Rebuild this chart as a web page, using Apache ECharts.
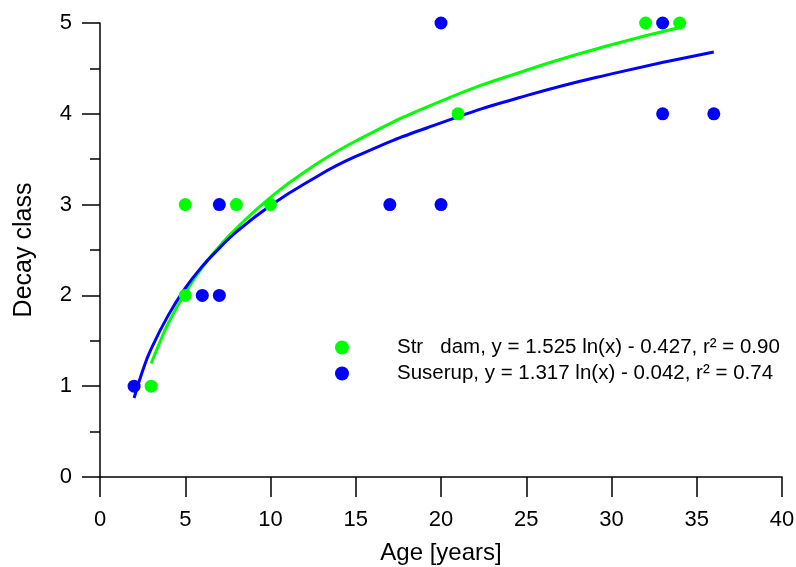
<!DOCTYPE html>
<html>
<head>
<meta charset="utf-8">
<script src="https://cdn.jsdelivr.net/npm/echarts@6/dist/echarts.min.js"></script>
<style>
  html, body { margin: 0; padding: 0; background: #fff; }
  #chart { width: 796px; height: 567px; }
</style>
</head>
<body>
<div id="chart"></div>
<script>
// observed points (age in years, decay class)
var strodamAge = [3, 5, 5, 8, 10, 21, 32, 34];
var strodamClass = [1, 2, 3, 3, 3, 4, 5, 5];
var suserupAge = [2, 6, 7, 7, 17, 20, 20, 33, 33, 36];
var suserupClass = [1, 2, 2, 3, 3, 3, 5, 4, 5, 4];

// fitted curves, values
var strodamFitAge = [3, 3.5, 4, 5, 6, 7, 8, 10, 12, 15, 20, 25, 30, 34];
var strodamFitClass = [1.25, 1.48, 1.69, 2.03, 2.31, 2.54, 2.74, 3.08, 3.36, 3.70, 4.14, 4.48, 4.76, 4.95];
var suserupFitAge = [2, 2.5, 3, 4, 5, 6, 7, 8, 10, 12, 15, 20, 25, 30, 36];
var suserupFitClass = [0.87, 1.17, 1.41, 1.78, 2.08, 2.32, 2.52, 2.70, 2.99, 3.23, 3.53, 3.90, 4.20, 4.44, 4.68];

var strodamName = "Str   dam, y = 1.525 ln(x) - 0.427, r\u00b2 = 0.90";
var suserupName = "Suserup, y = 1.317 ln(x) - 0.042, r\u00b2 = 0.74";

var GREEN = "#00ff00";
var BLUE = "#0000ff";
var FONT = "'Liberation Sans', Arial, sans-serif";

function zipPairs(xs, ys) {
    var out = [];
    for (var i = 0; i < xs.length; i++) {
        out.push([xs[i], ys[i]]);
    }
    return out;
}

var chart = echarts.init(document.getElementById("chart"));

var option = {
    backgroundColor: "#fff",
    animation: false,
    textStyle: { fontFamily: FONT },
    grid: {
        left: 100,
        right: 14,
        top: 23,
        bottom: 90,
        containLabel: false,
        outerBoundsMode: "none"
    },
    legend: {
        orient: "vertical",
        left: 330,
        top: 332,
        icon: "circle",
        itemWidth: 14,
        itemHeight: 14,
        itemGap: 5,
        data: [strodamName, suserupName],
        textStyle: {
            fontFamily: FONT,
            fontSize: 20.5,
            lineHeight: 20,
            color: "#000",
            padding: [0, 0, 0, 43]
        }
    },
    xAxis: {
        type: "value",
        min: 0,
        max: 40,
        interval: 5,
        name: "Age [years]",
        nameLocation: "middle",
        nameGap: 64,
        nameTextStyle: { fontFamily: FONT, fontSize: 24, color: "#000" },
        axisLine: { show: true, onZero: false, lineStyle: { color: "#000", width: 1.5 } },
        axisTick: { show: true, inside: false, length: 20, lineStyle: { color: "#000", width: 1.5 } },
        axisLabel: { margin: 32, fontFamily: FONT, fontSize: 22, color: "#000" },
        splitLine: { show: false }
    },
    yAxis: {
        type: "value",
        min: 0,
        max: 5,
        interval: 1,
        name: "Decay class",
        nameLocation: "middle",
        nameGap: 63,
        nameRotate: 90,
        nameTextStyle: { fontFamily: FONT, fontSize: 25, color: "#000" },
        axisLine: { show: true, onZero: false, lineStyle: { color: "#000", width: 1.5 } },
        axisTick: { show: true, inside: false, length: 18, lineStyle: { color: "#000", width: 1.5 } },
        minorTick: { show: true, splitNumber: 2, length: 10, lineStyle: { color: "#000", width: 1.5 } },
        axisLabel: { margin: 28, fontFamily: FONT, fontSize: 22, color: "#000" },
        splitLine: { show: false }
    },
    series: [
        {
            name: "Strodam fit",
            type: "line",
            smooth: true,
            showSymbol: false,
            silent: true,
            lineStyle: { color: GREEN, width: 3 },
            data: zipPairs(strodamFitAge, strodamFitClass),
            z: 2
        },
        {
            name: "Suserup fit",
            type: "line",
            smooth: true,
            showSymbol: false,
            silent: true,
            lineStyle: { color: BLUE, width: 3 },
            data: zipPairs(suserupFitAge, suserupFitClass),
            z: 2
        },
        {
            name: strodamName,
            type: "scatter",
            symbol: "circle",
            symbolSize: 13,
            itemStyle: { color: GREEN, opacity: 1 },
            data: zipPairs(strodamAge, strodamClass),
            z: 3
        },
        {
            name: suserupName,
            type: "scatter",
            symbol: "circle",
            symbolSize: 13,
            itemStyle: { color: BLUE, opacity: 1 },
            data: zipPairs(suserupAge, suserupClass),
            z: 3
        }
    ]
};

chart.setOption(option);
</script>
</body>
</html>
